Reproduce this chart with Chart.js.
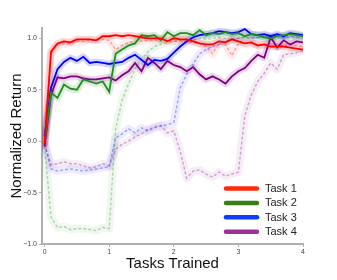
<!DOCTYPE html>
<html>
<head>
<meta charset="utf-8">
<script src="https://cdn.jsdelivr.net/npm/chart.js@4.4.1/dist/chart.umd.min.js"></script>
<style>
  html, body { margin: 0; padding: 0; background: #fff; }
</style>
</head>
<body>
<canvas id="chart" width="337" height="280"></canvas>
<script>
// --- Data ---
const tasksTrained = [0, 0.1, 0.2, 0.3, 0.4, 0.5, 0.6, 0.7, 0.8, 0.9,
    1, 1.1, 1.2, 1.3, 1.4, 1.5, 1.6, 1.7, 1.8, 1.9,
    2, 2.1, 2.2, 2.3, 2.4, 2.5, 2.6, 2.7, 2.8, 2.9,
    3, 3.1, 3.2, 3.3, 3.4, 3.5, 3.6, 3.7, 3.8, 3.9, 4];

const taskNames = ['Task 1', 'Task 2', 'Task 3', 'Task 4'];

// solid lines
const task1Return = [-0.02, 0.87, 0.95, 0.97, 0.96, 0.99, 0.99, 0.99, 0.98, 1.02,
    1.02, 1.03, 1.02, 1.03, 1.02, 1.01, 1.00, 1.00, 1.00, 0.97,
    1.00, 0.99, 0.99, 0.97, 0.95, 0.94, 0.94, 0.97, 0.96, 0.99,
    0.97, 0.95, 0.96, 0.93, 0.94, 0.92, 0.92, 0.92, 0.91, 0.90, 0.89];
const task2Return = [0.00, 0.47, 0.42, 0.55, 0.51, 0.50, 0.60, 0.58, 0.56, 0.58,
    0.48, 0.85, 0.89, 0.93, 0.95, 1.03, 1.02, 1.03, 0.98, 1.06,
    1.02, 1.05, 1.05, 1.03, 1.08, 1.03, 1.05, 1.04, 1.06, 1.04,
    1.05, 1.02, 1.04, 1.03, 1.01, 1.00, 1.02, 1.03, 1.04, 1.03, 1.02];
const task3Return = [0.05, 0.52, 0.70, 0.77, 0.81, 0.78, 0.82, 0.76, 0.77, 0.76,
    0.75, 0.76, 0.77, 0.81, 0.84, 0.79, 0.74, 0.79, 0.78, 0.80,
    0.86, 0.92, 0.97, 1.01, 1.03, 1.04, 1.05, 1.07, 1.06, 1.05,
    1.06, 1.09, 1.04, 1.03, 1.04, 1.02, 1.04, 1.02, 1.05, 1.04, 1.03];
const task4Return = [-0.05, 0.45, 0.62, 0.61, 0.63, 0.63, 0.61, 0.60, 0.60, 0.61,
    0.62, 0.59, 0.64, 0.68, 0.76, 0.68, 0.81, 0.76, 0.70, 0.78,
    0.74, 0.72, 0.68, 0.72, 0.65, 0.60, 0.63, 0.60, 0.56, 0.63,
    0.68, 0.71, 0.78, 0.84, 0.81, 1.01, 0.91, 0.98, 0.94, 0.97, 0.96];

// dashed lines
const task1Baseline = [-0.02, 0.85, 0.93, 0.95, 0.95, 0.97, 0.97, 0.98, 0.98, 0.99,
    0.98, 0.89, 0.93, 0.96, 0.97, 0.97, 0.98, 0.98, 0.99, 0.98,
    0.97, 0.98, 0.97, 0.96, 0.95, 0.92, 0.85, 0.95, 0.94, 0.83,
    0.95, 0.96, 0.95, 0.94, 0.93, 0.95, 0.94, 0.93, 0.94, 0.93, 0.92];
const task2Baseline = [-0.05, -0.74, -0.84, -0.83, -0.86, -0.85, -0.85, -0.86, -0.87, -0.84,
    -0.85, 0.12, 0.40, 0.56, 0.70, 0.80, 0.87, 0.92, 0.94, 0.96,
    0.97, 0.98, 0.99, 0.98, 1.00, 0.99, 1.00, 1.01, 1.00, 0.99,
    1.00, 1.01, 1.00, 1.01, 1.00, 1.01, 1.00, 1.01, 1.00, 1.01, 1.00];
const task3Baseline = [-0.03, -0.27, -0.29, -0.28, -0.27, -0.28, -0.29, -0.28, -0.27, -0.26,
    -0.25, 0.03, 0.07, 0.12, 0.08, 0.13, 0.10, 0.13, 0.15, 0.16,
    0.18, 0.52, 0.65, 0.75, 0.85, 0.89, 0.92, 0.94, 0.97, 0.99,
    1.00, 1.01, 1.00, 1.01, 1.02, 1.01, 1.02, 1.01, 1.02, 1.01, 1.02];
const task4Baseline = [-0.03, -0.23, -0.22, -0.20, -0.22, -0.22, -0.24, -0.26, -0.25, -0.22,
    -0.24, -0.08, -0.03, 0.00, 0.04, 0.07, 0.11, 0.14, 0.15, 0.08,
    0.10, -0.10, -0.36, -0.29, -0.28, -0.32, -0.35, -0.30, -0.34, -0.32,
    -0.30, 0.25, 0.45, 0.58, 0.66, 0.76, 0.70, 0.84, 0.85, 0.86, 0.88];

const xTicks = [0, 1, 2, 3, 4];
const yTicks = [-1, -0.5, 0, 0.5, 1];

// --- Styles ---
const lineRgb = ['255,0,0', '34,139,34', '0,0,255', '128,0,128'];
const legendColors = ['#ff2a0a', '#3b7e14', '#0b3dff', '#993399'];
const fontFamily = '"Liberation Sans", Arial, sans-serif';

const solidSeries = [task1Return, task2Return, task3Return, task4Return];
const dashedSeries = [task1Baseline, task2Baseline, task3Baseline, task4Baseline];

function toPoints(values) {
    return values.map((y, i) => ({ x: tasksTrained[i], y: y }));
}

const datasets = [];
taskNames.forEach((name, i) => {
    const rgb = lineRgb[i];
    // shaded band (wide translucent stroke)
    datasets.push({
        label: name + ' band', data: toPoints(solidSeries[i]),
        borderColor: `rgba(${rgb},0.16)`, borderWidth: 7,
        pointRadius: 0, fill: false, tension: 0, order: 20 + i,
        borderJoinStyle: 'round', borderCapStyle: 'round'
    });
    datasets.push({
        label: name, data: toPoints(solidSeries[i]),
        borderColor: `rgb(${rgb})`, borderWidth: 1.8,
        pointRadius: 0, fill: false, tension: 0, order: 10 + i
    });
    datasets.push({
        label: name + ' baseline band', data: toPoints(dashedSeries[i]),
        borderColor: `rgba(${rgb},0.07)`, borderWidth: 8,
        pointRadius: 0, fill: false, tension: 0, order: 40 + i,
        borderJoinStyle: 'round', borderCapStyle: 'round'
    });
    datasets.push({
        label: name + ' baseline', data: toPoints(dashedSeries[i]),
        borderColor: `rgba(${rgb},0.32)`, borderWidth: 1.5, borderDash: [3, 2],
        pointRadius: 0, fill: false, tension: 0, order: 30 + i
    });
});

// --- Legend drawn inside the plot area ---
const taskLegend = {
    id: 'taskLegend',
    afterDraw(chart) {
        const ctx = chart.ctx;
        const area = chart.chartArea;
        ctx.save();
        ctx.font = '11px ' + fontFamily;
        ctx.textBaseline = 'middle';
        taskNames.forEach((name, i) => {
            const y = area.bottom - 55.5 + i * 14.4;
            ctx.strokeStyle = legendColors[i];
            ctx.lineWidth = 4.5;
            ctx.lineCap = 'round';
            ctx.beginPath();
            ctx.moveTo(area.right - 77, y);
            ctx.lineTo(area.right - 46, y);
            ctx.stroke();
            ctx.fillStyle = '#222';
            ctx.fillText(name, area.right - 38, y + 0.5);
        });
        ctx.restore();
    }
};

new Chart(document.getElementById('chart'), {
    type: 'line',
    data: { datasets: datasets },
    plugins: [taskLegend],
    options: {
        responsive: false,
        devicePixelRatio: 1,
        animation: false,
        layout: { padding: { left: 4, right: 34, top: 28, bottom: 3 } },
        plugins: { legend: { display: false }, tooltip: { enabled: false } },
        scales: {
            x: {
                type: 'linear', min: -0.04, max: 4,
                afterBuildTicks: s => { s.ticks = xTicks.map(v => ({ value: v })); },
                afterFit: s => { s.height = 33; },
                ticks: {
                    font: { family: fontFamily, size: 7 }, color: '#444',
                    padding: 1, maxRotation: 0, callback: v => String(v)
                },
                grid: { drawOnChartArea: false, tickLength: 3, color: '#b0b0b0' },
                border: { color: '#b0b0b0', width: 2 },
                title: {
                    display: true, text: 'Tasks Trained', color: '#111',
                    font: { family: fontFamily, size: 15 }
                }
            },
            y: {
                min: -1, max: 1.1,
                afterBuildTicks: s => { s.ticks = yTicks.map(v => ({ value: v })); },
                afterFit: s => { s.width = 38; },
                ticks: {
                    font: { family: fontFamily, size: 7 }, color: '#444', padding: 2,
                    callback: v => (v < 0 ? '\u2212' : '') + Math.abs(v).toFixed(1)
                },
                grid: { drawOnChartArea: false, tickLength: 3, color: '#b0b0b0' },
                border: { color: '#b0b0b0', width: 2 },
                title: {
                    display: true, text: 'Normalized Return', color: '#111',
                    font: { family: fontFamily, size: 15 }
                }
            }
        }
    }
});
</script>
</body>
</html>
